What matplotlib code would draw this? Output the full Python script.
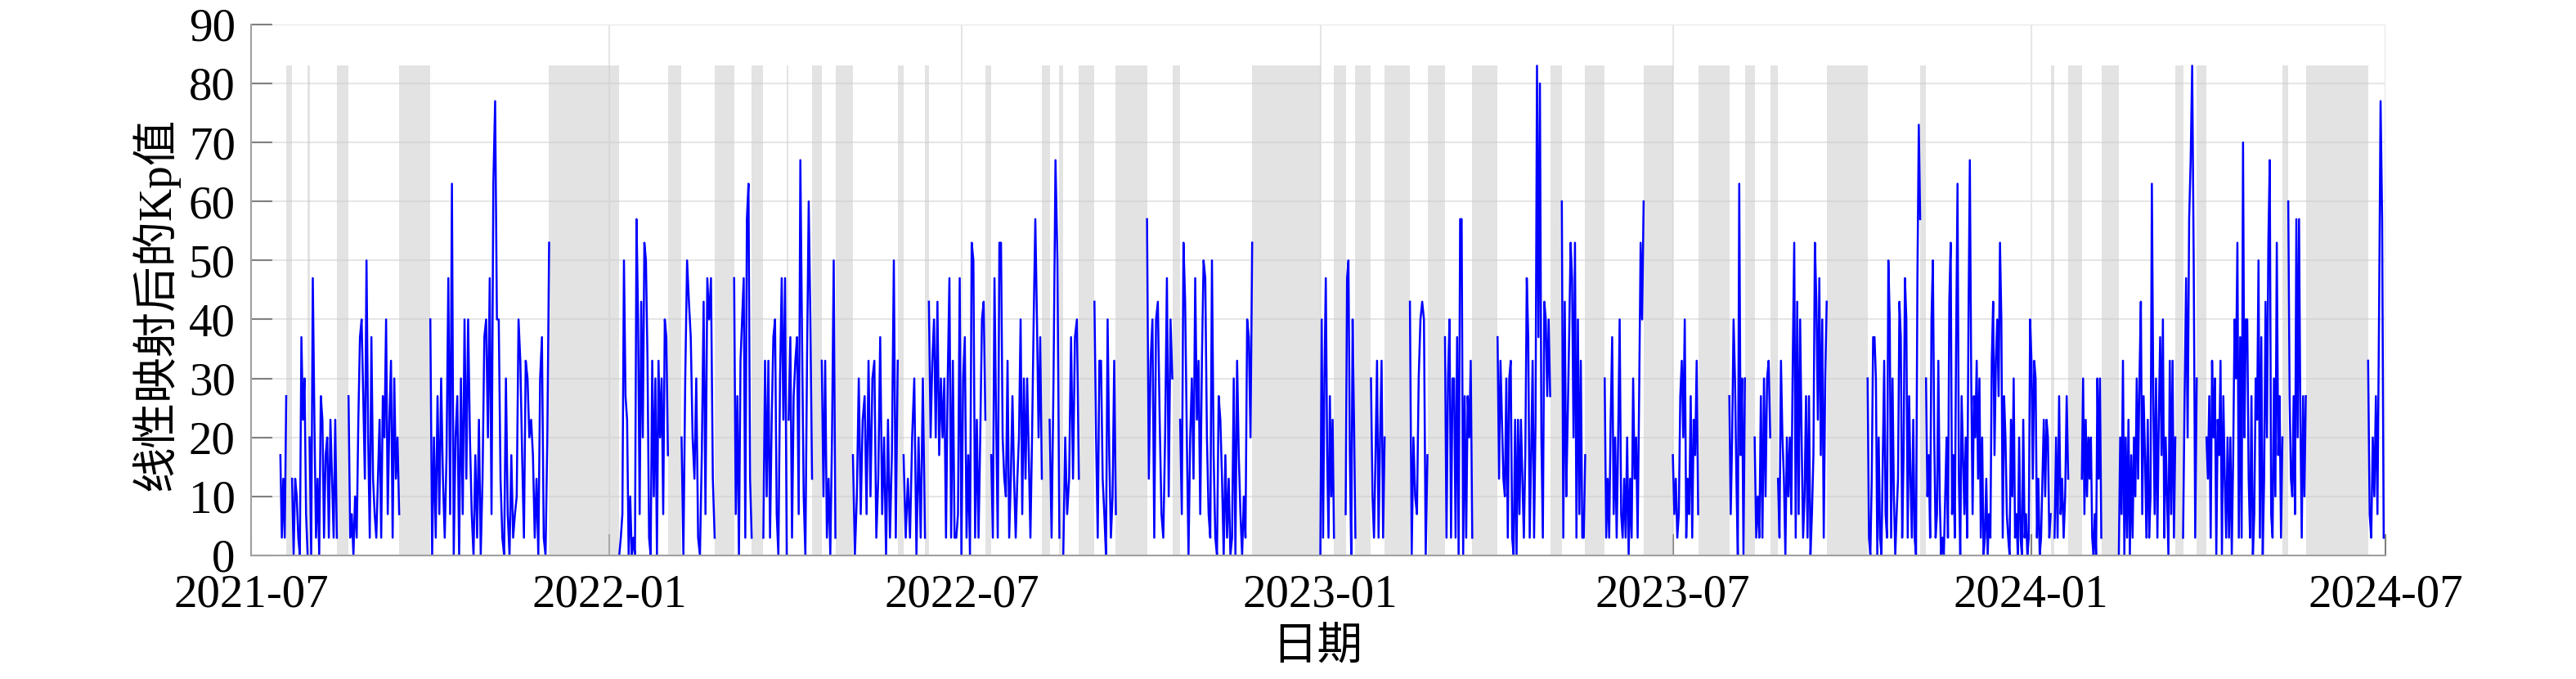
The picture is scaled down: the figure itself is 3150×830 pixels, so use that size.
import numpy as np
import pandas as pd
import matplotlib
matplotlib.use('Agg')
import matplotlib.pyplot as plt
import matplotlib.dates as mdates

plt.rcParams['font.family'] = ['Liberation Serif', 'Noto Sans CJK SC']

# ---------------- Daten ----------------
data_start = '2021-07-16'
data_end = '2024-06-30'

# Datenluecken (graue Balken)
gap_start = ['2021-07-19', '2021-07-30', '2021-08-14', '2021-09-15', '2021-12-01',
             '2022-01-31', '2022-02-24', '2022-03-15', '2022-04-02', '2022-04-15',
             '2022-04-27', '2022-05-29', '2022-06-12', '2022-07-13', '2022-08-11',
             '2022-08-20', '2022-08-30', '2022-09-18', '2022-10-17', '2022-11-27',
             '2023-01-08', '2023-01-19', '2023-02-03', '2023-02-25', '2023-03-20',
             '2023-04-29', '2023-05-17', '2023-06-16', '2023-07-14', '2023-08-07',
             '2023-08-20', '2023-09-18', '2023-11-05', '2024-01-11', '2024-01-20',
             '2024-02-06', '2024-03-15', '2024-03-26', '2024-05-09', '2024-05-21']
gap_end = ['2021-07-22', '2021-07-31', '2021-08-20', '2021-10-01', '2022-01-06',
           '2022-02-07', '2022-03-06', '2022-03-21', '2022-04-03', '2022-04-20',
           '2022-05-06', '2022-06-01', '2022-06-14', '2022-07-16', '2022-08-15',
           '2022-08-22', '2022-09-07', '2022-10-04', '2022-10-21', '2023-01-01',
           '2023-01-14', '2023-01-27', '2023-02-16', '2023-03-06', '2023-04-02',
           '2023-05-05', '2023-05-27', '2023-07-01', '2023-07-30', '2023-08-12',
           '2023-08-24', '2023-10-09', '2023-11-08', '2024-01-13', '2024-01-27',
           '2024-02-15', '2024-03-19', '2024-03-31', '2024-05-12', '2024-06-22']
gap_height = 83

# Kp-Werte (linear abgebildet) je Datenabschnitt zwischen den Luecken
kp_segments = [
    [17, 3, 13, 3, 27],
    [13, 0, 13, 10, 3, 0, 37, 23, 30, 7, 0],
    [20, 0, 47, 23, 3, 13, 0, 27, 23, 3, 17, 20, 3, 23, 13, 3, 23, 3],
    [27, 3, 7, 0, 10, 3, 23, 37, 40, 27, 13, 50, 20, 3, 37, 13, 7, 3, 13, 23, 3, 27,
     20, 40, 7, 23, 33, 3, 30, 13, 20, 7],
    [40, 0, 20, 3, 27, 7, 30, 13, 3, 17, 47, 7, 63, 0, 20, 27, 0, 30, 7, 40, 13, 40,
     20, 7, 0, 17, 3, 23, 0, 13, 37, 40, 20, 47, 7, 63, 77, 40, 40, 13, 3, 0, 30, 7,
     0, 17, 3, 7, 10, 40, 33, 17, 3, 33, 30, 20, 23, 17, 3, 13, 0, 30, 37, 3, 0, 20, 53],
    [0, 3, 7, 50, 27, 23, 0, 10, 0, 3, 0, 57, 40, 7, 43, 20, 53, 50, 33, 3, 0, 33, 10,
     30, 0, 33, 20, 30, 7, 40, 37, 17],
    [20, 0, 30, 50, 43, 37, 20, 13, 30, 3, 0, 17, 43, 7, 47, 40, 47, 13, 3],
    [47, 7, 27, 0, 33, 40, 47, 3, 57, 63, 13, 3],
    [3, 33, 10, 33, 3, 23, 37, 40, 7, 0, 30, 47, 23, 47, 0],
    [23, 37, 3, 27, 33, 37, 7, 67, 37, 10, 0, 33, 60, 40, 13],
    [33, 10, 33, 3, 13, 0, 20, 50, 3],
    [17, 0, 10, 30, 7, 23, 27, 7, 33, 10, 30, 33, 3, 13, 37, 7, 20, 0, 23, 3, 17, 50, 3, 33],
    [17, 3, 13, 3, 20, 30, 0, 20, 3, 30, 3],
    [43, 20, 33, 40, 20, 43, 17, 30, 20, 30, 3, 30, 47, 3, 33, 3, 3, 7, 47, 0, 30, 37,
     3, 17, 0, 53, 50, 3, 23, 3, 20, 40, 43, 23],
    [17, 3, 47, 23, 3, 53, 53, 20, 13, 10, 33, 3, 13, 27, 13, 3, 13, 20, 40, 7, 30, 13,
     30, 17, 3, 20, 40, 57, 40, 20, 37, 13],
    [23, 3, 30, 67, 50, 3],
    [0, 20, 7, 13, 37, 13, 37, 40, 13],
    [43, 20, 3, 33, 33, 13, 7, 0, 40, 17, 3, 10, 33, 7],
    [57, 13, 33, 40, 3, 40, 43, 23, 7, 3, 20, 47, 10, 40, 30],
    [23, 7, 53, 43, 20, 0, 20, 30, 13, 47, 23, 33, 7, 33, 50, 47, 20, 7, 3, 50, 17, 3,
     0, 27, 23, 13, 0, 17, 3, 13, 0, 3, 30, 0, 33, 17, 7, 0, 10, 3, 40, 37, 20, 53],
    [0, 40, 3, 30, 47, 17, 3, 27, 10, 23, 3],
    [7, 47, 50, 17, 0, 40, 23, 3],
    [30, 10, 3, 17, 33, 3, 20, 33, 3, 20],
    [43, 0, 20, 10, 7, 30, 40, 43, 40, 0, 17],
    [37, 3, 30, 40, 3, 30, 30, 3, 37, 0, 57, 57, 0, 27, 3, 27, 20, 33, 3],
    [37, 13, 33, 23, 13, 10, 30, 3, 30, 33, 3, 0, 23, 0, 23, 7, 23, 13, 3, 17, 47, 37,
     3, 17, 33, 3, 23, 83, 37, 80, 20, 3, 43, 40, 27, 40, 27],
    [60, 3, 43, 10, 23, 37, 53, 47, 20, 53, 3, 40, 7, 33, 3, 3, 17],
    [30, 3, 13, 3, 23, 37, 7, 20, 3, 20, 40, 7, 3, 13, 3, 20, 0, 13, 3, 30, 13, 20, 3,
     27, 53, 40, 60],
    [17, 7, 13, 3, 7, 27, 33, 20, 40, 3, 13, 7, 27, 3, 23, 17, 33, 7],
    [27, 7, 20, 40, 30, 13, 0, 63, 17, 30, 0, 30],
    [20, 3, 10, 3, 27, 3, 30, 10, 30, 33, 20],
    [13, 3, 33, 20, 13, 0, 20, 10, 20, 7, 33, 53, 3, 43, 7, 40, 20, 3, 10, 27, 3, 27,
     0, 7, 17, 53, 43, 23, 47, 17, 40, 3, 30, 43],
    [30, 3, 0, 13, 37, 37, 30, 0, 20, 3, 0, 17, 33, 7, 3, 50, 40, 3, 30, 10, 0, 7, 13,
     43, 37, 3, 17, 47, 40, 3, 27, 13, 3, 23, 3, 0, 47, 73, 57],
    [30, 10, 17, 3, 40, 50, 20, 3, 7, 33, 10, 0, 3, 0, 10, 20, 3, 43, 53, 7, 17, 3, 37,
     63, 13, 0, 27, 17, 7, 20, 3, 40, 67, 30, 7, 27, 20, 33, 13, 30, 3, 20, 0, 3, 13,
     0, 7, 3, 33, 43, 17, 33, 40, 27, 53, 40, 3, 27, 20, 7, 3, 0, 23, 10, 30, 3, 7, 0,
     20, 3, 0, 23, 3, 7, 0, 3, 40, 33, 13, 33, 30, 3, 13, 0, 3, 13, 23, 10, 23, 20, 3, 7],
    [3, 20, 3, 27, 7, 13, 3, 10, 27, 13],
    [13, 30, 7, 23, 10, 20, 13, 20, 3, 0, 7, 0, 30, 13, 30, 3],
    [0, 20, 7, 33, 0, 20, 3, 23, 0, 17, 3, 20, 10, 30, 13, 30, 43, 7, 27, 17, 3, 23, 3,
     10, 63, 27, 7, 30, 3, 23, 37, 17, 40, 3, 20, 10, 0, 33, 7, 33, 3, 20],
    [3, 27, 47, 20, 57, 67, 83, 50, 3, 30],
    [20, 13, 27, 3, 33, 20, 30, 0, 23, 17, 33, 0, 27, 13, 3, 20, 3, 20, 0, 17, 40, 30,
     53, 3, 37, 3, 70, 20, 40, 40, 13, 3, 27, 0, 7, 30, 23, 50, 3, 37, 0, 13, 43, 20,
     53, 67, 7, 3, 30, 10, 53, 17, 27, 3, 20],
    [60, 27, 13, 10, 27, 7, 57, 20, 57, 23, 3, 27, 10, 27],
    [33, 7, 3, 20, 10, 27, 7, 40, 77, 57, 3],
]

x_start = '2021-07-01'
x_end = '2024-07-01'

# ---------------- Zeitachse zusammensetzen ----------------
seg_start = [data_start] + gap_end
seg_end = gap_start + [data_end]
t_all, kp_all = [], []
for s, e, vals in zip(seg_start, seg_end, kp_segments):
    t0 = mdates.date2num(pd.Timestamp(s))
    t1 = mdates.date2num(pd.Timestamp(e))
    t_all.extend(np.linspace(t0, t1, len(vals)))
    kp_all.extend(vals)
    t_all.append(np.nan)  # Luecke -> Linie unterbrechen
    kp_all.append(np.nan)

# ---------------- Figure ----------------
fig = plt.figure(figsize=(31.5, 8.3), dpi=100)
ax = fig.add_axes([0.0975, 0.182, 0.8286, 0.782])

for s, e in zip(gap_start, gap_end):
    ax.axvspan(pd.Timestamp(s), pd.Timestamp(e), ymin=0, ymax=gap_height / 90,
               color='0.8', alpha=0.55, lw=0)

ax.plot(t_all, kp_all, color='#0000ff', lw=1.8)

ax.set_xlim(pd.Timestamp(x_start), pd.Timestamp(x_end))
ax.set_ylim(0, 90)
ax.set_yticks(np.arange(0, 91, 10))
ax.xaxis.set_major_locator(mdates.MonthLocator(bymonth=[1, 7]))
ax.xaxis.set_major_formatter(mdates.DateFormatter('%Y-%m'))

ax.set_axisbelow(True)
ax.grid(True, color='#e6e6e6', lw=1.5)
for side in ['top', 'right']:
    ax.spines[side].set_visible(False)
for side in ['left', 'bottom']:
    ax.spines[side].set_color('#a0a0a0')
    ax.spines[side].set_linewidth(1.5)
ax.tick_params(direction='in', length=19, width=1.5, color='#808080', labelsize=41)
ax.tick_params(axis='y', pad=14)
ax.tick_params(axis='x', pad=16)

fig.text(190 / 3150, 1 - 372 / 830, '线性映射后的Kp值', rotation=90,
         ha='center', va='center', fontsize=40)
fig.text(1611 / 3150, 1 - 793 / 830, '日期', ha='center', va='center', fontsize=40)

fig.savefig('out.png', dpi=100)
